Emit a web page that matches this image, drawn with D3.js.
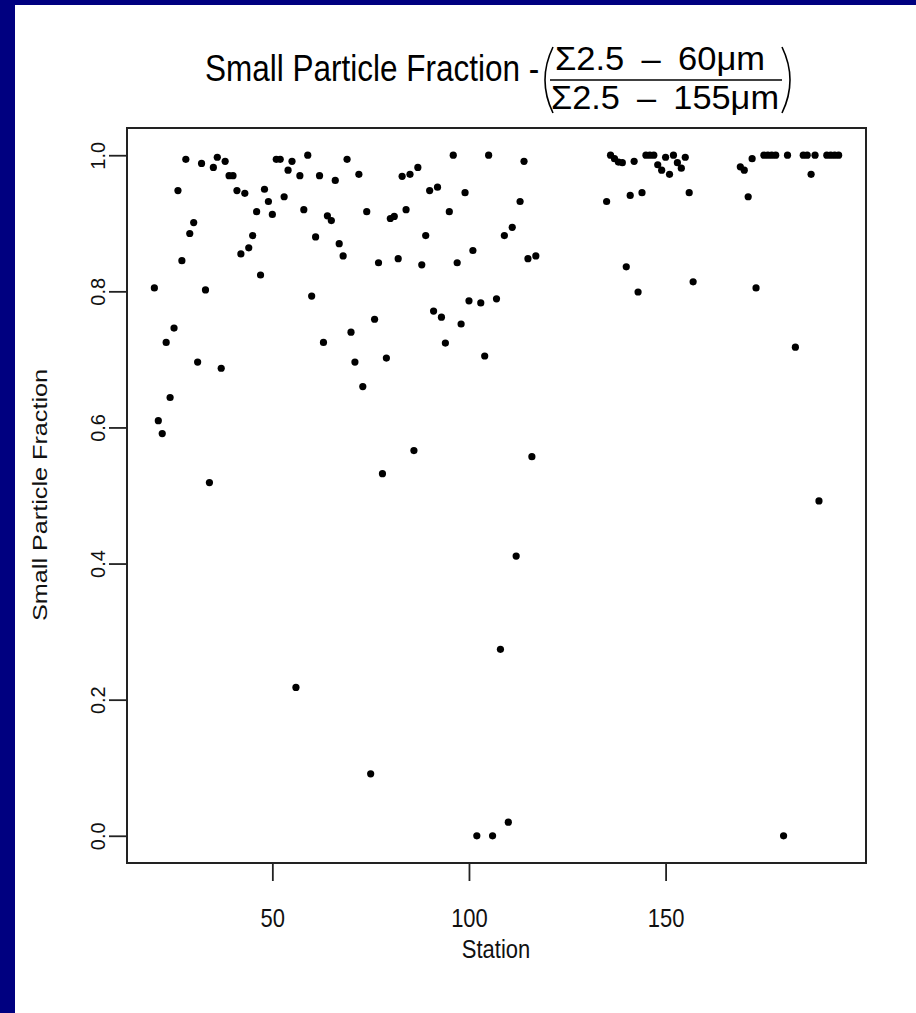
<!DOCTYPE html>
<html>
<head>
<meta charset="utf-8">
<script src="https://cdn.jsdelivr.net/npm/d3@7"></script>
<style>
  html, body { margin: 0; padding: 0; background: #fff; }
  svg { display: block; font-family: "Liberation Sans", Arial, sans-serif; }
</style>
</head>
<body>
<svg id="chart"></svg>
<script>
// station number and small particle fraction
const stations = [
  20, 21, 22, 23, 24, 25, 26, 27, 28, 29, 30, 31, 32, 33, 34, 35, 36, 37, 38, 39,
  40, 41, 42, 43, 44, 45, 46, 47, 48, 49, 50, 51, 52, 53, 54, 55, 56, 57, 58, 59,
  60, 61, 62, 63, 64, 65, 66, 67, 68, 69, 70, 71, 72, 73, 74, 75, 76, 77, 78, 79,
  80, 81, 82, 83, 84, 85, 86, 87, 88, 89, 90, 91, 92, 93, 94, 95, 96, 97, 98, 99,
  100, 101, 102, 103, 104, 105, 106, 107, 108, 109, 110, 111, 112, 113, 114, 115, 116, 117,
  135, 136, 137, 138, 139, 140, 141, 142, 143, 144, 145, 146, 147, 148, 149, 150, 151, 152,
  153, 154, 155, 156, 157,
  169, 170, 171, 172, 173, 175, 176, 177, 178, 180, 181, 183, 185, 186, 187, 188, 189,
  191, 192, 193, 194
];
const fraction = [
  0.805, 0.610, 0.591, 0.725, 0.644, 0.746, 0.948, 0.845, 0.994, 0.885,
  0.901, 0.696, 0.988, 0.802, 0.519, 0.982, 0.997, 0.687, 0.991, 0.970,
  0.970, 0.948, 0.855, 0.944, 0.864, 0.882, 0.917, 0.824, 0.950, 0.932,
  0.913, 0.994, 0.994, 0.939, 0.978, 0.991, 0.218, 0.970, 0.920, 1.000,
  0.793, 0.880, 0.970, 0.725, 0.911, 0.904, 0.963, 0.870, 0.852, 0.994,
  0.740, 0.696, 0.972, 0.660, 0.917, 0.091, 0.759, 0.842, 0.532, 0.702,
  0.907, 0.910, 0.848, 0.969, 0.920, 0.972, 0.566, 0.982, 0.839, 0.882,
  0.948, 0.771, 0.953, 0.762, 0.724, 0.917, 1.000, 0.842, 0.752, 0.945,
  0.786, 0.860, 0.000, 0.783, 0.705, 1.000, 0.000, 0.789, 0.274, 0.882,
  0.020, 0.894, 0.411, 0.932, 0.991, 0.848, 0.557, 0.852,
  0.932, 1.000, 0.995, 0.990, 0.989, 0.836, 0.941, 0.991, 0.799, 0.945,
  1.000, 1.000, 1.000, 0.986, 0.978, 0.997, 0.972, 1.000, 0.989, 0.981,
  0.997, 0.945, 0.814,
  0.983, 0.978, 0.939, 0.995, 0.805, 1.000, 1.000, 1.000, 1.000, 0.000,
  1.000, 0.718, 1.000, 1.000, 0.972, 1.000, 0.492, 1.000, 1.000, 1.000, 1.000
];
const xTicks = [50, 100, 150];
const yTicks = [0, 0.2, 0.4, 0.6, 0.8, 1.0];

const width = 916, height = 1013;
const plot = { left: 127, right: 866, top: 128, bottom: 863 };

const svg = d3.select("#chart")
  .attr("width", width)
  .attr("height", height);

svg.append("rect").attr("width", width).attr("height", height).attr("fill", "#fff");
// navy frame on top and left
svg.append("rect").attr("x", 0).attr("y", 0).attr("width", width).attr("height", 5).attr("fill", "#000080");
svg.append("rect").attr("x", 0).attr("y", 0).attr("width", 15).attr("height", height).attr("fill", "#000080");

// R style 4% padding around the data range
const pad = ([a, b]) => [a - 0.04 * (b - a), b + 0.04 * (b - a)];

const xScale = d3.scaleLinear()
  .domain(pad(d3.extent(stations)))
  .range([plot.left, plot.right]);

const yScale = d3.scaleLinear()
  .domain(pad([0, 1]))
  .range([plot.bottom, plot.top]);

const xAxis = d3.axisBottom(xScale).tickValues(xTicks).tickSize(18).tickSizeOuter(0);
const yAxis = d3.axisLeft(yScale).tickValues(yTicks).tickFormat(d3.format(".1f")).tickSize(18).tickSizeOuter(0);

const xAxisGroup = svg.append("g")
  .attr("transform", `translate(0,${plot.bottom})`)
  .call(xAxis);

const yAxisGroup = svg.append("g")
  .attr("transform", `translate(${plot.left},0)`)
  .call(yAxis);

[xAxisGroup, yAxisGroup].forEach(g => {
  g.select(".domain").remove();
  g.selectAll(".tick line").attr("stroke", "#222").attr("stroke-width", 1.8);
  g.selectAll(".tick text").attr("fill", "#111").attr("font-size", 22)
    .attr("font-family", "Liberation Sans, Arial, sans-serif");
});

xAxisGroup.selectAll(".tick text")
  .attr("y", null).attr("dy", null)
  .attr("transform", "translate(0,64) scale(1,1.2)");

yAxisGroup.selectAll(".tick text")
  .attr("x", null).attr("dy", null)
  .attr("font-size", 20)
  .attr("text-anchor", "middle")
  .attr("transform", "translate(-22,0) rotate(-90)");

// plot frame
svg.append("rect")
  .attr("x", plot.left).attr("y", plot.top)
  .attr("width", plot.right - plot.left).attr("height", plot.bottom - plot.top)
  .attr("fill", "none").attr("stroke", "#222").attr("stroke-width", 2);

// points
svg.append("g")
  .selectAll("circle")
  .data(stations.map((s, i) => ({ s, v: fraction[i] })))
  .join("circle")
  .attr("cx", d => xScale(d.s))
  .attr("cy", d => yScale(d.v))
  .attr("r", 3.6)
  .attr("fill", "#000");

// axis titles
svg.append("text")
  .attr("transform", "translate(496,958) scale(1,1.2)")
  .attr("text-anchor", "middle").attr("font-size", 22).attr("fill", "#111")
  .text("Station");

svg.append("text")
  .attr("transform", "translate(47,495) scale(1,1.2) rotate(-90)")
  .attr("text-anchor", "middle").attr("font-size", 21).attr("fill", "#111")
  .text("Small Particle Fraction");

// main title with the fraction
const title = svg.append("g").attr("fill", "#000");
title.append("text")
  .attr("transform", "translate(205,81) scale(1,1.2)")
  .attr("font-size", 31.5)
  .text("Small Particle Fraction -");

title.append("text")
  .attr("transform", "translate(660,70) scale(1,1.15)")
  .attr("text-anchor", "middle").attr("font-size", 29)
  .attr("textLength", 210).attr("lengthAdjust", "spacingAndGlyphs")
  .text("Σ2.5\u2002–\u200260μm");

title.append("text")
  .attr("transform", "translate(665,109) scale(1,1.15)")
  .attr("text-anchor", "middle").attr("font-size", 29)
  .attr("textLength", 228).attr("lengthAdjust", "spacingAndGlyphs")
  .text("Σ2.5\u2002–\u2002155μm");

title.append("line")
  .attr("x1", 550).attr("x2", 782).attr("y1", 80).attr("y2", 80)
  .attr("stroke", "#000").attr("stroke-width", 1.6);

title.append("path")
  .attr("d", "M553,47 Q537,80 553,113")
  .attr("fill", "none").attr("stroke", "#000").attr("stroke-width", 1.6);
title.append("path")
  .attr("d", "M782,47 Q798,80 782,113")
  .attr("fill", "none").attr("stroke", "#000").attr("stroke-width", 1.6);
</script>
</body>
</html>
